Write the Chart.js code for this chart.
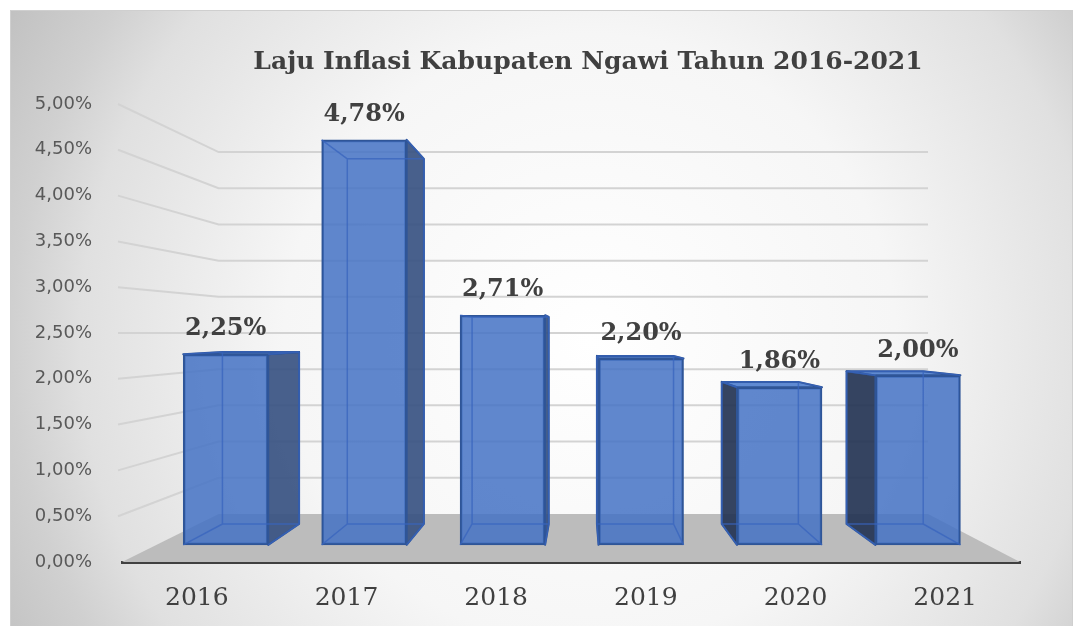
<!DOCTYPE html>
<html lang="id">
<head>
<meta charset="UTF-8">
<title>Laju Inflasi Kabupaten Ngawi</title>
<script src="https://cdn.jsdelivr.net/npm/chart.js"></script>
<style>
  html, body { margin: 0; padding: 0; background: #fff; }
  canvas { display: block; }
</style>
</head>
<body>
<canvas id="inflasi" width="1074" height="626"></canvas>
<script>
// data
var years = ['2016', '2017', '2018', '2019', '2020', '2021'];
var inflasi = [2.25, 4.78, 2.71, 2.20, 1.86, 2.00];
var yMax = 5;
var yStep = 0.5;
var title = 'Laju Inflasi Kabupaten Ngawi Tahun 2016-2021';

// fake 3D: plot area fixed, one vanishing point
var AREA = { left: 122, right: 1020, top: 104, bottom: 562 };
var VX = 582, VY = 333;
var S_WALL = 0.79;      // back wall depth
var S_FRONT = 0.925;    // bar front face depth
var S_BACK = 0.834;     // bar back face depth

function pct(v) {
    return v.toFixed(2).replace('.', ',') + '%';
}

function toDepth(x, y, s) {
    return [VX + (x - VX) * s, VY + (y - VY) * s];
}

// hidden scales for the bars so they sit on the front-face plane
var W = AREA.right - AREA.left, H = AREA.bottom - AREA.top;
var xbMin = (AREA.left - VX) * (1 / S_FRONT - 1) * years.length / W - 0.5;
var xbMax = xbMin + years.length / S_FRONT;
var ybMin = -(AREA.bottom - VY) * (1 - S_FRONT) * yMax / (H * S_FRONT);
var ybMax = ybMin + yMax / S_FRONT;

var room3d = {
    id: 'room3d',
    beforeDraw: function (chart) {
        var ctx = chart.ctx;
        ctx.save();
        ctx.fillStyle = '#fff';
        ctx.fillRect(0, 0, chart.width, chart.height);
        var g = ctx.createRadialGradient(590, 340, 0, 590, 340, 680);
        g.addColorStop(0, '#ffffff');
        g.addColorStop(0.45, '#f6f6f6');
        g.addColorStop(0.75, '#e0e0e0');
        g.addColorStop(0.85, '#d0d0d0');
        g.addColorStop(1, '#bfbfbf');
        ctx.fillStyle = g;
        ctx.fillRect(10, 10, 1063, 616);
        ctx.strokeStyle = '#cfcfcf';
        ctx.lineWidth = 1;
        ctx.strokeRect(10.5, 10.5, 1062, 620);

        ctx.fillStyle = '#404040';
        ctx.font = 'bold 25px "DejaVu Serif"';
        ctx.textAlign = 'center';
        ctx.textBaseline = 'middle';
        ctx.fillText(title, 588, 62);
        ctx.restore();
    },
    beforeDatasetsDraw: function (chart) {
        var ctx = chart.ctx, ys = chart.scales.y, a = chart.chartArea;
        ctx.save();
        // floor
        var bl = toDepth(a.left, a.bottom, S_WALL), br = toDepth(a.right, a.bottom, S_WALL);
        ctx.fillStyle = '#bcbcbc';
        ctx.beginPath();
        ctx.moveTo(a.left, a.bottom);
        ctx.lineTo(a.right, a.bottom);
        ctx.lineTo(br[0], br[1]);
        ctx.lineTo(bl[0], bl[1]);
        ctx.closePath();
        ctx.fill();
        // grid on left wall and back wall
        ctx.strokeStyle = '#d3d3d3';
        ctx.lineWidth = 2;
        ys.ticks.forEach(function (t) {
            if (t.value === 0) return;
            var y = ys.getPixelForValue(t.value);
            var p = toDepth(a.left, y, S_WALL), q = toDepth(a.right, y, S_WALL);
            ctx.beginPath();
            ctx.moveTo(a.left - 4, y);
            ctx.lineTo(p[0], p[1]);
            ctx.lineTo(q[0], q[1]);
            ctx.stroke();
        });
        ctx.restore();
    },
    afterDatasetsDraw: function (chart) {
        var ctx = chart.ctx;
        var k = S_BACK / S_FRONT;
        var meta = chart.getDatasetMeta(0);
        ctx.save();
        meta.data.forEach(function (bar, i) {
            var w = bar.width / 2;
            var fl = bar.x - w, fr = bar.x + w, ft = bar.y, fb = bar.base;
            var bl = VX + (fl - VX) * k, br = VX + (fr - VX) * k;
            var bt = VY + (ft - VY) * k, bb = VY + (fb - VY) * k;

            ctx.lineJoin = 'round';
            // side face
            ctx.beginPath();
            if (bar.x < VX) {
                ctx.moveTo(fr, ft); ctx.lineTo(br, bt); ctx.lineTo(br, bb); ctx.lineTo(fr, fb);
                ctx.fillStyle = 'rgba(56,82,130,0.92)';
            } else {
                ctx.moveTo(fl, ft); ctx.lineTo(bl, bt); ctx.lineTo(bl, bb); ctx.lineTo(fl, fb);
                ctx.fillStyle = 'rgba(36,52,84,0.92)';
            }
            ctx.closePath();
            ctx.fill();
            ctx.strokeStyle = '#2f5597';
            ctx.lineWidth = 2;
            ctx.stroke();

            // top face when seen from above
            if (ft > VY) {
                ctx.beginPath();
                ctx.moveTo(fl, ft); ctx.lineTo(fr, ft); ctx.lineTo(br, bt); ctx.lineTo(bl, bt);
                ctx.closePath();
                ctx.fillStyle = '#5f8ad2';
                ctx.fill();
                ctx.stroke();
            }
            // hidden edges seen through the glass
            ctx.strokeStyle = 'rgba(56,100,190,0.75)';
            ctx.lineWidth = 1.5;
            ctx.beginPath();
            ctx.moveTo(bl, bt); ctx.lineTo(bl, bb); ctx.lineTo(br, bb);
            ctx.moveTo(fl, fb); ctx.lineTo(bl, bb);
            ctx.moveTo(fr, fb); ctx.lineTo(br, bb);
            ctx.moveTo(br, bt); ctx.lineTo(br, bb);
            ctx.moveTo(bl, bt); ctx.lineTo(br, bt);
            ctx.moveTo(fl, ft); ctx.lineTo(bl, bt);
            ctx.moveTo(fr, ft); ctx.lineTo(br, bt);
            ctx.stroke();

            // value label
            ctx.fillStyle = '#404040';
            ctx.font = 'bold 24px "DejaVu Serif"';
            ctx.textAlign = 'center';
            ctx.textBaseline = 'middle';
            ctx.fillText(pct(inflasi[i]), bar.x, ft - 25);
        });
        ctx.restore();
    }
};

var ctx = document.getElementById('inflasi').getContext('2d');
var chart = new Chart(ctx, {
    type: 'bar',
    data: {
        labels: years,
        datasets: [{
            data: inflasi.map(function (v, i) { return { x: i, y: v }; }),
            xAxisID: 'xb',
            yAxisID: 'yb',
            backgroundColor: 'rgba(68,114,196,0.85)',
            borderColor: '#2f5597',
            borderWidth: 2,
            borderSkipped: false,
            barThickness: 85
        }]
    },
    options: {
        responsive: false,
        animation: false,
        layout: { padding: { top: AREA.top, right: 1074 - AREA.right, bottom: 0, left: 0 } },
        plugins: {
            legend: { display: false },
            title: { display: false },
            tooltip: { enabled: false }
        },
        scales: {
            x: {
                type: 'category',
                offset: true,
                grid: { display: false },
                border: { display: true, color: '#404040', width: 3 },
                ticks: {
                    padding: 13,
                    color: '#404040',
                    font: { family: '"DejaVu Serif"', size: 25 }
                },
                afterFit: function (s) { s.height = 626 - AREA.bottom; }
            },
            y: {
                type: 'linear',
                min: 0,
                max: yMax,
                grid: { display: false },
                border: { display: false },
                ticks: {
                    stepSize: yStep,
                    padding: 22,
                    color: '#595959',
                    font: { family: '"DejaVu Sans"', size: 18 },
                    callback: function (v) { return pct(v); }
                },
                afterFit: function (s) { s.width = AREA.left; }
            },
            xb: { type: 'linear', display: false, offset: false, min: xbMin, max: xbMax, bounds: 'data' },
            yb: { type: 'linear', display: false, offset: false, min: ybMin, max: ybMax, bounds: 'data' }
        }
    },
    plugins: [room3d]
});
</script>
</body>
</html>
